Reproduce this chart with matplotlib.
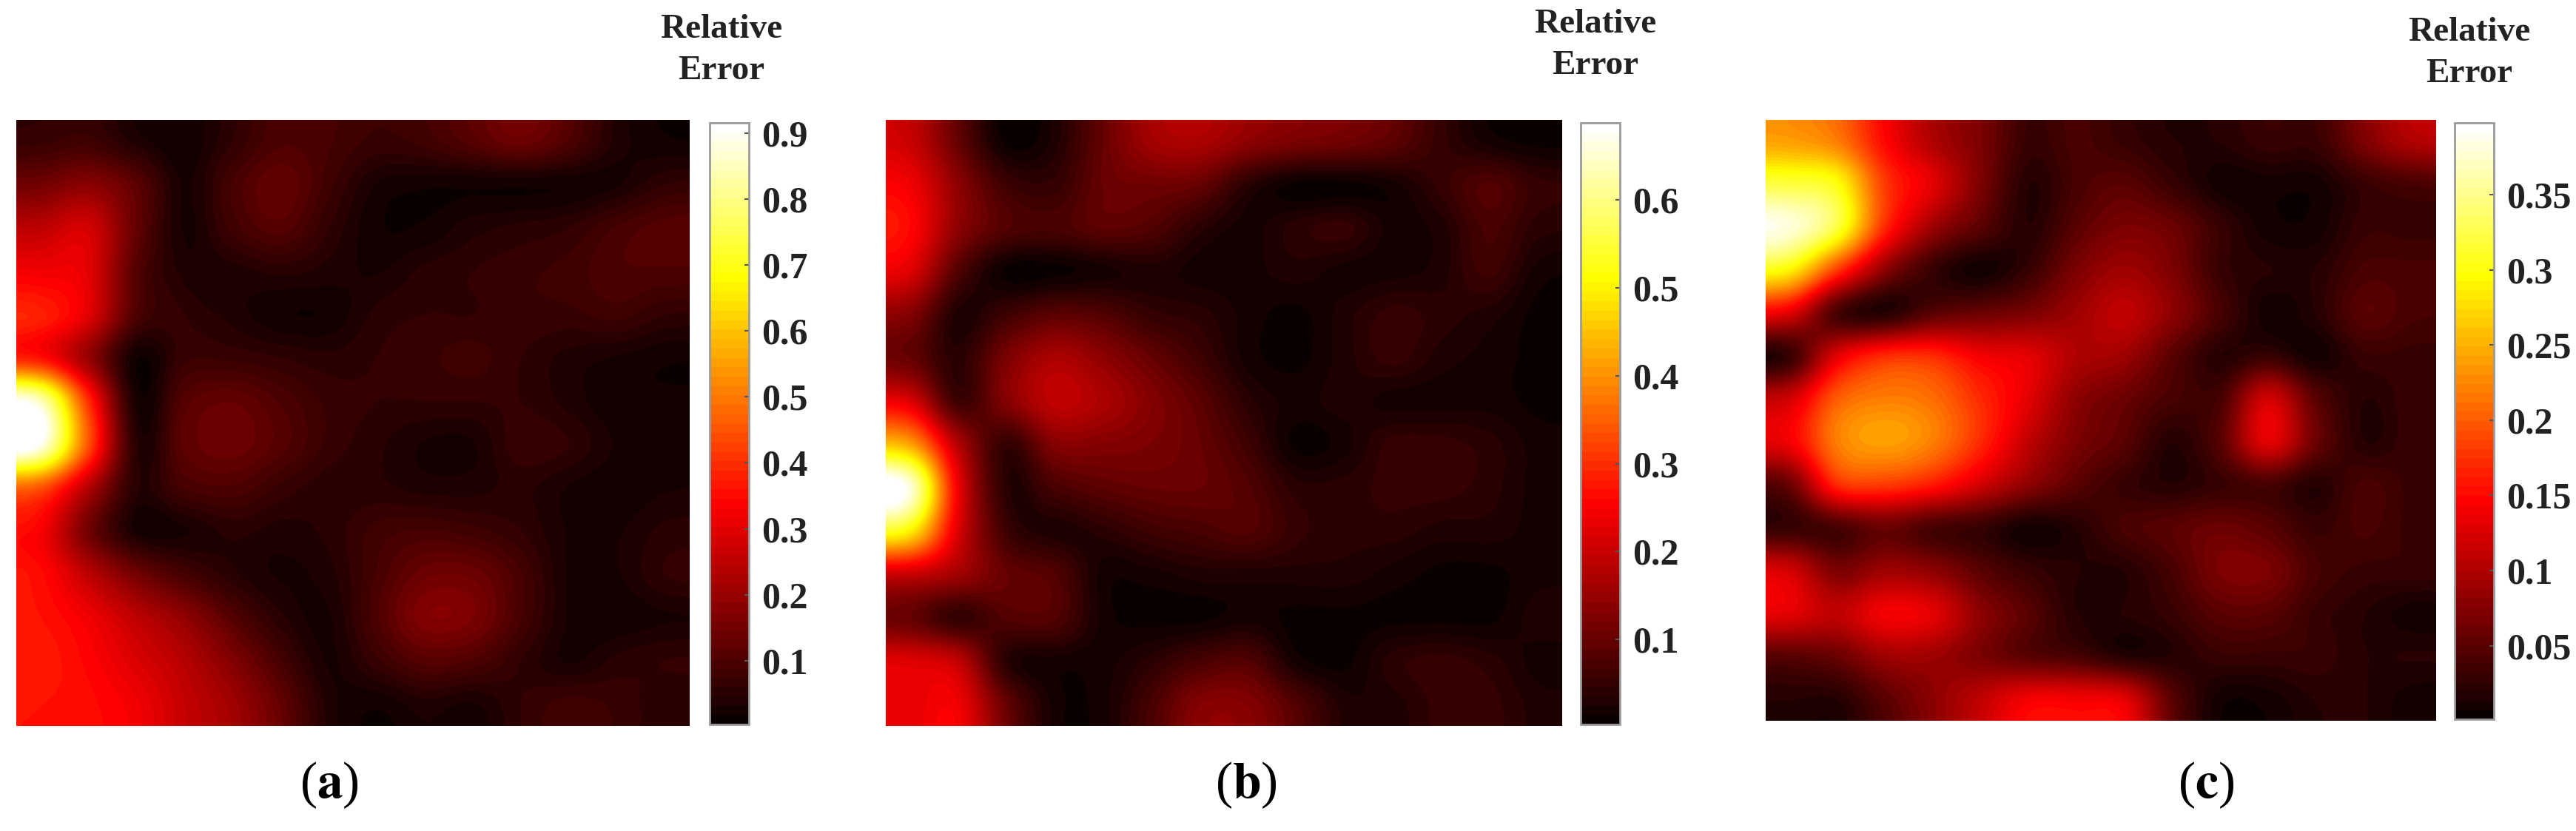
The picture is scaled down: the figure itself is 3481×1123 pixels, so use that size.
import numpy as np
import matplotlib
matplotlib.use("Agg")
import matplotlib.pyplot as plt
from matplotlib.cm import ScalarMappable
from matplotlib.colors import Normalize

W, H = 3481, 1123

err_a = [
[0.07,0.08,0.04,0.02,0.06,0.10,0.09,0.07,0.08,0.11,0.14,0.10,0.04,0.02],
[0.15,0.18,0.12,0.03,0.09,0.13,0.08,0.03,0.02,0.02,0.02,0.02,0.03,0.06],
[0.25,0.28,0.13,0.03,0.08,0.11,0.06,0.02,0.02,0.04,0.05,0.06,0.09,0.11],
[0.32,0.30,0.11,0.04,0.04,0.05,0.04,0.03,0.05,0.06,0.07,0.08,0.10,0.10],
[0.38,0.30,0.10,0.06,0.04,0.02,0.02,0.05,0.06,0.06,0.07,0.07,0.08,0.06],
[0.36,0.20,0.02,0.07,0.07,0.06,0.05,0.06,0.07,0.08,0.06,0.04,0.03,0.02],
[0.85,0.40,0.03,0.11,0.13,0.10,0.07,0.06,0.06,0.06,0.06,0.04,0.02,0.02],
[0.90,0.45,0.05,0.12,0.14,0.11,0.07,0.05,0.03,0.03,0.07,0.06,0.03,0.03],
[0.45,0.24,0.05,0.09,0.10,0.07,0.05,0.05,0.04,0.04,0.05,0.03,0.02,0.03],
[0.33,0.15,0.03,0.03,0.05,0.04,0.05,0.08,0.09,0.08,0.06,0.03,0.03,0.05],
[0.35,0.25,0.15,0.09,0.05,0.03,0.04,0.09,0.14,0.14,0.09,0.03,0.03,0.06],
[0.36,0.32,0.25,0.19,0.11,0.05,0.03,0.10,0.17,0.16,0.09,0.03,0.02,0.03],
[0.37,0.34,0.29,0.24,0.17,0.09,0.03,0.07,0.11,0.10,0.06,0.03,0.05,0.06],
[0.36,0.35,0.32,0.26,0.21,0.13,0.04,0.02,0.04,0.03,0.06,0.08,0.07,0.05],
]
err_b = [
[0.20,0.10,0.01,0.03,0.10,0.16,0.17,0.14,0.12,0.11,0.09,0.05,0.02,0.01],
[0.24,0.14,0.06,0.05,0.10,0.11,0.10,0.04,0.01,0.01,0.02,0.05,0.08,0.05],
[0.26,0.14,0.08,0.07,0.09,0.08,0.04,0.02,0.04,0.05,0.02,0.03,0.07,0.04],
[0.22,0.08,0.01,0.01,0.02,0.03,0.02,0.02,0.03,0.02,0.02,0.03,0.06,0.02],
[0.13,0.03,0.06,0.09,0.08,0.05,0.04,0.02,0.01,0.03,0.05,0.04,0.03,0.01],
[0.10,0.04,0.12,0.17,0.14,0.10,0.06,0.02,0.01,0.03,0.05,0.03,0.02,0.01],
[0.22,0.06,0.13,0.19,0.17,0.13,0.09,0.04,0.02,0.03,0.02,0.02,0.02,0.01],
[0.42,0.18,0.05,0.13,0.13,0.12,0.10,0.06,0.01,0.02,0.05,0.05,0.04,0.02],
[0.66,0.24,0.04,0.07,0.09,0.10,0.10,0.08,0.04,0.04,0.05,0.05,0.04,0.02],
[0.50,0.22,0.06,0.03,0.04,0.06,0.07,0.08,0.05,0.04,0.04,0.03,0.03,0.02],
[0.20,0.16,0.10,0.08,0.02,0.02,0.03,0.03,0.03,0.03,0.02,0.01,0.01,0.02],
[0.10,0.05,0.08,0.08,0.02,0.01,0.01,0.02,0.01,0.01,0.01,0.01,0.01,0.03],
[0.22,0.19,0.04,0.02,0.02,0.04,0.07,0.08,0.02,0.01,0.04,0.05,0.04,0.02],
[0.23,0.24,0.10,0.02,0.02,0.07,0.13,0.13,0.08,0.03,0.03,0.05,0.05,0.03],
]
err_c = [
[0.24,0.22,0.15,0.10,0.07,0.03,0.04,0.03,0.02,0.02,0.03,0.03,0.07,0.10],
[0.32,0.30,0.18,0.13,0.07,0.02,0.04,0.05,0.03,0.01,0.01,0.01,0.03,0.04],
[0.38,0.32,0.17,0.09,0.05,0.02,0.05,0.07,0.06,0.03,0.01,0.01,0.03,0.03],
[0.29,0.18,0.08,0.03,0.01,0.03,0.07,0.09,0.07,0.03,0.02,0.02,0.04,0.04],
[0.13,0.04,0.02,0.05,0.06,0.07,0.09,0.11,0.08,0.04,0.01,0.02,0.05,0.04],
[0.03,0.13,0.17,0.17,0.14,0.13,0.10,0.09,0.05,0.02,0.03,0.01,0.03,0.03],
[0.12,0.20,0.22,0.21,0.17,0.13,0.08,0.06,0.04,0.04,0.12,0.05,0.02,0.03],
[0.14,0.22,0.24,0.22,0.17,0.11,0.07,0.05,0.02,0.05,0.13,0.06,0.02,0.03],
[0.06,0.17,0.18,0.16,0.12,0.08,0.05,0.03,0.02,0.03,0.04,0.02,0.04,0.03],
[0.03,0.04,0.06,0.04,0.03,0.01,0.02,0.04,0.05,0.06,0.05,0.03,0.04,0.03],
[0.12,0.07,0.09,0.08,0.05,0.03,0.02,0.02,0.04,0.07,0.07,0.04,0.03,0.03],
[0.13,0.11,0.14,0.13,0.08,0.05,0.02,0.02,0.03,0.05,0.05,0.03,0.02,0.01],
[0.05,0.06,0.09,0.09,0.07,0.05,0.04,0.02,0.02,0.03,0.03,0.03,0.02,0.02],
[0.02,0.02,0.05,0.08,0.11,0.14,0.14,0.13,0.05,0.01,0.01,0.02,0.02,0.01],
]
ticks_a = [0.1,0.2,0.3,0.4,0.5,0.6,0.7,0.8,0.9]
ticks_b = [0.1,0.2,0.3,0.4,0.5,0.6]
ticks_c = [0.05,0.1,0.15,0.2,0.25,0.3,0.35]
labels_c = ["0.05","0.1","0.15","0.2","0.25","0.3","0.35"]
ranges = [(0.003,0.916),(0.003,0.688),(0.001,0.398)]
panels = ["a","b","c"]

plt.rcParams["font.family"] = ["Liberation Serif","DejaVu Serif"]
fig = plt.figure(figsize=(W/100,H/100),dpi=100,facecolor="white")
def axpx(x0,y0,x1,y1):
    return fig.add_axes([x0/W,1-y1/H,(x1-x0)/W,(y1-y0)/H])

cmap = plt.get_cmap("hot",64)
layout = [
 ((22,162,932,981),(959,166,1012,979),(975,40),(445,1061)),
 ((1197,162,2111,981),(2136,166,2189,979),(2156,33),(1684,1061)),
 ((2386,162,3292,974),(3317,166,3370,972),(3337,44),(2981,1061)),
]
for i,(err,ticks,tl) in enumerate(zip([err_a,err_b,err_c],[ticks_a,ticks_b,ticks_c],
                                      [[str(t) for t in ticks_a],[str(t) for t in ticks_b],labels_c])):
    box,cb,tp,cp = layout[i]
    vmin,vmax = ranges[i]
    ax = axpx(*box)
    ax.imshow(np.array(err),cmap=cmap,vmin=vmin,vmax=vmax,aspect="auto",
              interpolation="catrom",interpolation_stage="data")
    ax.set_xticks([]); ax.set_yticks([])
    for s in ax.spines.values():
        s.set_visible(False)
    cax = axpx(*cb)
    c = fig.colorbar(ScalarMappable(Normalize(vmin,vmax),cmap),cax=cax,ticks=ticks)
    c.ax.set_yticklabels(tl)
    c.ax.tick_params(labelsize=36,length=4,width=1.5,direction="in",color="#555555",pad=12)
    for lab in c.ax.get_yticklabels():
        lab.set_fontweight("bold"); lab.set_color("#222222")
    c.outline.set_edgecolor("#9a9a9a"); c.outline.set_linewidth(2)
    fig.text(tp[0]/W,1-tp[1]/H,"Relative",fontsize=34,fontweight="bold",ha="center",va="center",color="#222222")
    fig.text(tp[0]/W,1-(tp[1]+56)/H,"Error",fontsize=34,fontweight="bold",ha="center",va="center",color="#222222")
    fig.text(cp[0]/W,1-cp[1]/H,"($\\mathbf{%s}$)"%panels[i],fontsize=50,ha="center",va="center",
             math_fontfamily="stix",color="black")
fig.savefig("out.png",dpi=100)
